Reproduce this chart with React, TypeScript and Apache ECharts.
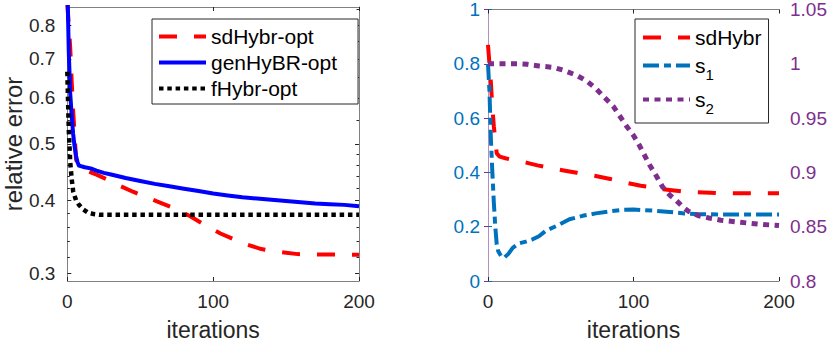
import React, { useEffect, useRef } from 'react';
import * as echarts from 'echarts';

const FONT = '"Liberation Sans", Arial, Helvetica, sans-serif';

// ---- data: sdHybr (used in both panels) ----
const sdIter = [0, 1, 2, 3, 4, 5, 6, 8, 12, 16, 20, 27, 34, 45, 52, 61, 74, 84, 95, 105, 112, 120, 133, 143, 158, 175, 190, 200];
const sdErr = [0.87, 0.8, 0.73, 0.64, 0.57, 0.52, 0.47, 0.458, 0.452, 0.447, 0.443, 0.435, 0.426, 0.414, 0.407, 0.399, 0.387, 0.376, 0.362, 0.351, 0.345, 0.338, 0.33, 0.327, 0.3235, 0.323, 0.3228, 0.3228];

// ---- genHyBR-opt ----
const genIter = [0, 1, 2, 3, 4, 5, 6, 7, 8, 12, 16, 20, 25, 30, 35, 40, 50, 60, 70, 80, 90, 100, 110, 120, 130, 140, 150, 160, 170, 180, 190, 200];
const genErr = [0.95, 0.72, 0.61, 0.56, 0.52, 0.495, 0.477, 0.465, 0.459, 0.456, 0.454, 0.45, 0.446, 0.443, 0.44, 0.437, 0.432, 0.427, 0.423, 0.419, 0.415, 0.411, 0.408, 0.405, 0.403, 0.401, 0.399, 0.397, 0.395, 0.394, 0.393, 0.391];

// ---- fHybr-opt ----
const fIter = [0, 1, 2, 3, 4, 6, 8, 11, 14, 18, 22, 200];
const fErr = [0.665, 0.53, 0.465, 0.435, 0.415, 0.4, 0.393, 0.386, 0.3815, 0.379, 0.378, 0.378];

// ---- s1 (left axis of right panel) ----
const s1Iter = [0, 1, 2, 3, 4, 5, 6, 7, 9, 11, 14, 17, 21, 26, 30, 35, 40, 48, 56, 65, 74, 84, 93, 100, 113, 125, 135, 145, 160, 200];
const s1Val = [0.8, 0.7, 0.52, 0.4, 0.29, 0.2, 0.135, 0.11, 0.092, 0.085, 0.1, 0.122, 0.138, 0.145, 0.152, 0.165, 0.186, 0.205, 0.2275, 0.24, 0.249, 0.257, 0.262, 0.263, 0.2595, 0.254, 0.249, 0.246, 0.245, 0.245];

// ---- s2 (right axis of right panel) ----
const s2Iter = [0, 10, 20, 27, 35, 45, 52, 61, 68, 74, 80, 86, 90, 95, 100, 104, 111, 116, 120, 125, 129, 134, 138, 145, 152, 160, 170, 186, 200];
const s2Val = [1.0, 1.0, 1.0, 0.9995, 0.998, 0.9967, 0.994, 0.9893, 0.984, 0.9774, 0.969, 0.961, 0.953, 0.943, 0.934, 0.925, 0.907, 0.896, 0.8866, 0.879, 0.8747, 0.868, 0.864, 0.86, 0.858, 0.856, 0.8545, 0.8524, 0.851];

// ---- ticks ----
const leftMajorTicks = [0.3, 0.4, 0.5, 0.6, 0.7, 0.8];
const leftMinorTicks = [0.32, 0.34, 0.36, 0.38, 0.42, 0.44, 0.46, 0.48, 0.55, 0.65, 0.75, 0.85];
const leftRange = [0.2909, 0.859];

const lg = (v: number) => Math.log10(v);
const zip = (xs: number[], ys: number[], f = (v: number) => v) => xs.map((x, i) => [x, f(ys[i])]);

const GRAY = '#808080';
const TXT = '#262626';
const BLUE = '#0072BD';
const PURPLE = '#7E2F8E';

export default function App() {
  const ref = useRef<HTMLDivElement>(null);
  useEffect(() => {
    if (!ref.current) return;
    const chart = echarts.init(ref.current, null, { renderer: 'svg' });

    const xBase = (grid: number, top: boolean) => ({
      type: 'value',
      gridIndex: grid,
      position: top ? 'top' : 'bottom',
      min: 0,
      max: 200,
      interval: 100,
      axisLine: { show: true, lineStyle: { color: GRAY, width: 1 } },
      axisTick: { show: true, inside: true, length: 4, lineStyle: { color: TXT } },
      axisLabel: top
        ? { show: false }
        : { show: true, fontSize: 19, color: TXT, margin: 11, fontFamily: FONT },
      splitLine: { show: false },
      name: top ? '' : 'iterations',
      nameLocation: 'middle',
      nameGap: 37,
      nameTextStyle: { fontSize: 23, color: TXT, fontFamily: FONT },
    });

    const logAxis = (pos: 'left' | 'right', major: boolean, label: boolean) => ({
      type: 'value',
      gridIndex: 0,
      position: pos,
      min: lg(leftRange[0]),
      max: lg(leftRange[1]),
      axisLine: { show: major, lineStyle: { color: GRAY, width: 1 } },
      axisTick: {
        show: true,
        inside: true,
        length: major ? 4 : 2.5,
        customValues: (major ? leftMajorTicks : leftMinorTicks).map(lg),
        lineStyle: { color: TXT },
      },
      axisLabel: label
        ? {
            show: true,
            customValues: leftMajorTicks.map(lg),
            formatter: (v: number) => Math.pow(10, v).toFixed(1),
            fontSize: 19,
            color: TXT,
            margin: 12,
            fontFamily: FONT,
          }
        : { show: false },
      splitLine: { show: false },
      name: label ? 'relative error' : '',
      nameLocation: 'middle',
      nameGap: 41,
      nameRotate: 90,
      nameTextStyle: { fontSize: 24, color: TXT, fontFamily: FONT },
    });

    const lineSeries = (name: string, xi: number, yi: number, data: number[][], color: string, width: number, dash: number[] | 'solid', z: number) => ({
      name,
      type: 'line',
      xAxisIndex: xi,
      yAxisIndex: yi,
      data,
      symbol: 'none',
      showSymbol: false,
      clip: true,
      z,
      lineStyle: { color, width, type: dash, cap: 'butt', join: 'round' },
      itemStyle: { color },
    });

    const legendBase = {
      orient: 'vertical',
      itemWidth: 47,
      itemHeight: 14,
      borderColor: TXT,
      borderWidth: 1,
      backgroundColor: '#ffffff',
      borderRadius: 0,
      selectedMode: false,
      lineStyle: { width: 4 },
      itemStyle: { opacity: 0 },
      textStyle: {
        fontSize: 21,
        color: '#000',
        fontFamily: FONT,
        rich: {
          sub: { fontSize: 15, color: '#000', fontFamily: FONT, padding: [18, 0, 0, 0] },
        },
      },
    };

    const option: any = {
      animation: false,
      backgroundColor: '#ffffff',
      grid: [
        { left: 66, top: 7, width: 293, height: 280, containLabel: false },
        { left: 488, top: 7, width: 293, height: 280, containLabel: false },
      ],
      xAxis: [xBase(0, false), xBase(0, true), xBase(1, false), xBase(1, true)],
      yAxis: [
        logAxis('left', true, true),
        logAxis('left', false, false),
        logAxis('right', true, false),
        logAxis('right', false, false),
        {
          type: 'value',
          gridIndex: 1,
          position: 'left',
          min: 0,
          max: 1,
          interval: 0.2,
          axisLine: { show: true, lineStyle: { color: '#5fa3d6', width: 1 } },
          axisTick: { show: true, inside: true, length: 4, lineStyle: { color: BLUE } },
          axisLabel: { fontSize: 19, color: BLUE, margin: 8, fontFamily: FONT },
          splitLine: { show: false },
        },
        {
          type: 'value',
          gridIndex: 1,
          position: 'right',
          min: 0.8,
          max: 1.05,
          interval: 0.05,
          axisLine: { show: true, lineStyle: { color: '#b48ec2', width: 1 } },
          axisTick: { show: true, inside: true, length: 4, lineStyle: { color: PURPLE } },
          axisLabel: { fontSize: 19, color: PURPLE, margin: 11, fontFamily: FONT },
          splitLine: { show: false },
        },
      ],
      legend: [
        {
          ...legendBase,
          data: ['sdHybr-opt', 'genHyBR-opt', 'fHybr-opt'],
          left: 152,
          top: 19,
          itemGap: 5,
          padding: [7, 21, 5, 5],
        },
        {
          ...legendBase,
          data: ['sdHybr', 's1', 's2'],
          left: 635,
          top: 19,
          itemGap: 7,
          padding: [8, 7, 7, 6],
          formatter: (name: string) =>
            name === 's1' ? 's{sub|1}' : name === 's2' ? 's{sub|2}' : name,
        },
      ],
      series: [
        lineSeries('sdHybr-opt', 0, 0, zip(sdIter, sdErr, lg), '#FF0000', 4, [18, 17], 2),
        lineSeries('genHyBR-opt', 0, 0, zip(genIter, genErr, lg), '#0000FF', 4, 'solid', 3),
        lineSeries('fHybr-opt', 0, 0, zip(fIter, fErr, lg), '#000000', 4.5, [4.5, 3.8], 4),
        lineSeries('sdHybr', 2, 4, zip(sdIter, sdErr), '#FF0000', 4, [18, 17], 2),
        lineSeries('s1', 2, 4, zip(s1Iter, s1Val), BLUE, 4, [16, 5, 7, 5], 3),
        lineSeries('s2', 2, 5, zip(s2Iter, s2Val), PURPLE, 5, [6, 5.5], 4),
      ],
    };

    chart.setOption(option);
    return () => chart.dispose();
  }, []);

  return (
    <div
      ref={ref}
      style={{ position: 'absolute', left: 0, top: 0, width: 830, height: 346, background: '#fff' }}
    />
  );
}
